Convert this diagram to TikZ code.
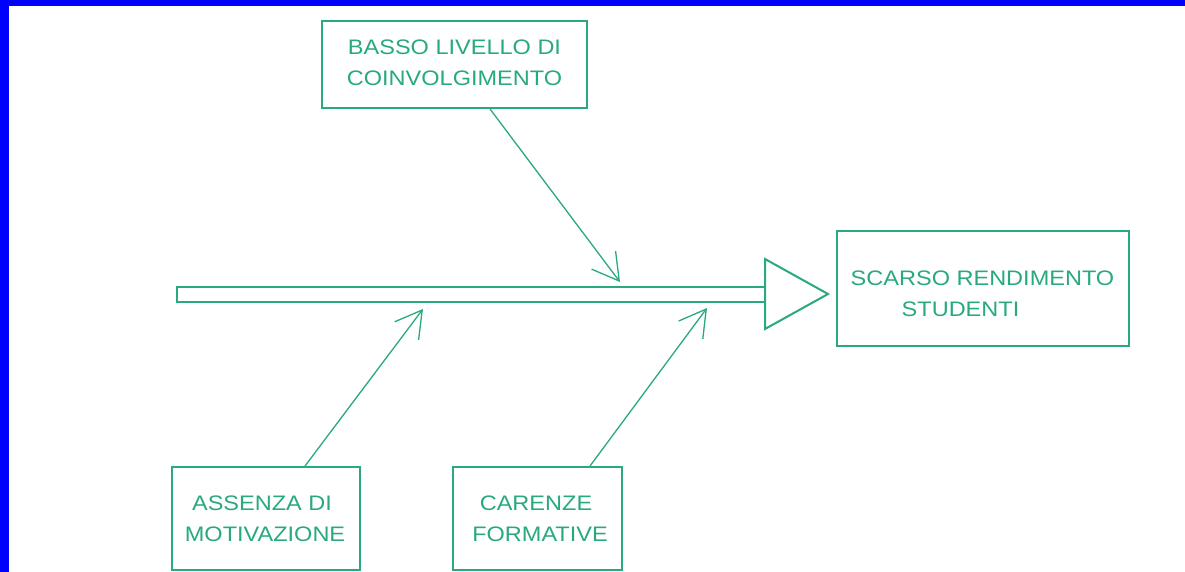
\documentclass[tikz,border=0pt]{standalone}
\usepackage{fontspec}
\setmainfont{Liberation Sans}[FakeStretch=1.12]
\usetikzlibrary{arrows.meta}
\definecolor{fishgreen}{RGB}{40,170,125}
\definecolor{frameblue}{RGB}{0,0,255}
\tikzset{
  box/.style={draw=fishgreen, line width=2pt, rectangle, inner sep=0pt},
  txt/.style={text=fishgreen, align=center, inner sep=0pt, font=\fontsize{21}{31}\selectfont},
  cause/.style={draw=fishgreen, line width=1.3pt, -{Straight Barb[length=26pt,width=30pt]}},
  spine/.style={draw=fishgreen, line width=2pt, line join=miter}
}
\begin{document}
\begin{tikzpicture}[x=1pt,y=-1pt]
\useasboundingbox (0,0) rectangle (1185,572);
\fill[white] (0,0) rectangle (1185,572);
\fill[frameblue] (0,0) rectangle (1185,6);
\fill[frameblue] (0,0) rectangle (9,572);

% boxes
\node[box, minimum width=265pt, minimum height=87pt] (basso) at (454.5,64.5) {};
\node[txt] (bassot) at (454.5,62.5) {BASSO LIVELLO DI\\COINVOLGIMENTO};

\node[box, minimum width=292pt, minimum height=115pt] (scarso) at (983,288.5) {};
\node[txt] (scarsot) at (982.5,293.5) {SCARSO RENDIMENTO\\STUDENTI\hspace*{44pt}};

\node[box, minimum width=188pt, minimum height=103pt] (assenza) at (266,518.5) {};
\node[txt] (assenzat) at (265,519) {ASSENZA DI\hspace*{6pt}\\MOTIVAZIONE};

\node[box, minimum width=169pt, minimum height=103pt] (carenze) at (537.5,518.5) {};
\node[txt] (carenzet) at (540,519) {CARENZE\hspace*{8pt}\\FORMATIVE};

% spine
\coordinate (sa) at (765,287);
\coordinate (sb) at (177,287);
\coordinate (sc) at (177,302);
\coordinate (sd) at (765,302);
\draw[spine] (sa) -- (sb) -- (sc) -- (sd);
\coordinate (ta) at (765,259);
\coordinate (tb) at (828,294);
\coordinate (tc) at (765,329);
\draw[spine] (ta) -- (tb) -- (tc) -- cycle;

% cause arrows
\coordinate (t1) at (620,282);
\coordinate (t2) at (423,309);
\coordinate (t3) at (707,308);
\draw[cause] ([xshift=35.5pt]basso.south) -- (t1);
\draw[cause] ([xshift=39pt]assenza.north) -- (t2);
\draw[cause] ([xshift=52.5pt]carenze.north) -- (t3);
\end{tikzpicture}
\end{document}
